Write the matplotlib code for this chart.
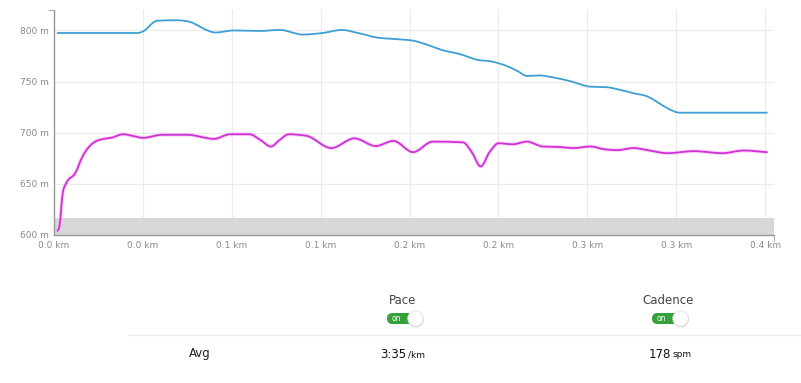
import numpy as np
import matplotlib.pyplot as plt
import matplotlib.patheffects as pe
from matplotlib.patches import FancyBboxPatch, Circle, PathPatch
from matplotlib.path import Path

# Altitude (courbe bleue)
elev_km = [0.002, 0.047, 0.050, 0.058, 0.069, 0.075, 0.091, 0.101, 0.116, 0.127, 0.140,
           0.151, 0.162, 0.171, 0.182, 0.191, 0.202, 0.210, 0.218, 0.228, 0.239, 0.245,
           0.255, 0.261, 0.266, 0.273, 0.281, 0.290, 0.302, 0.311, 0.317, 0.326, 0.334,
           0.339, 0.345, 0.352, 0.401]
elev_m = [797.5, 797.5, 799, 809.5, 810, 809, 798, 800, 799.5, 800.5, 796,
          797.5, 800.5, 797.5, 793, 791.7, 790, 786, 781, 777, 771, 770,
          765, 760, 755.5, 756, 754, 750.6, 745, 744.5, 742.5, 738.6, 735.3,
          730.4, 724, 719.6, 719.6]

# Cadence (courbe magenta)
cad_km = [0.002, 0.003, 0.005, 0.007, 0.012, 0.016, 0.022, 0.028, 0.032, 0.039, 0.044,
          0.050, 0.061, 0.075, 0.090, 0.099, 0.110, 0.116, 0.122, 0.127, 0.132, 0.142,
          0.156, 0.169, 0.181, 0.191, 0.202, 0.213, 0.230, 0.235, 0.240, 0.245, 0.250,
          0.258, 0.266, 0.275, 0.285, 0.292, 0.302, 0.309, 0.317, 0.326, 0.335, 0.345,
          0.360, 0.376, 0.388, 0.401]
cad_m = [604, 608, 642, 651, 660.6, 676.6, 690, 694, 695, 698.5, 697,
         695, 698, 698, 694, 698.5, 698.5, 693, 686.5, 693, 698.5, 697,
         685, 694.5, 687, 692, 681, 691.3, 690.6, 681, 667, 681, 689.7,
         688.7, 691.3, 686.5, 686, 685, 686.5, 684, 683, 685, 682.6, 680,
         682, 680, 682.6, 681]

x_ticks = [0.0, 0.05, 0.1, 0.15, 0.2, 0.25, 0.3, 0.35, 0.4]
x_labels = ["0.0 km", "0.0 km", "0.1 km", "0.1 km", "0.2 km", "0.2 km", "0.3 km", "0.3 km", "0.4 km"]
y_ticks = [600, 650, 700, 750, 800]
x_max = 0.405
band_top = 617

stats_labels = ["Pace", "Cadence"]
stats_values = ["3:35", "178"]
stats_units = ["/km", "spm"]


def smooth_path(xs, ys):
    """Courbe de Bézier monotone (style d3.curveMonotoneX) passant par les points."""
    x = np.asarray(xs, float)
    y = np.asarray(ys, float)
    n = len(x)
    h = np.diff(x)
    s = np.diff(y) / h
    m = np.zeros(n)
    m[0], m[-1] = s[0], s[-1]
    for i in range(1, n - 1):
        if s[i - 1] * s[i] <= 0:
            m[i] = 0
        else:
            p = (s[i - 1] * h[i] + s[i] * h[i - 1]) / (h[i - 1] + h[i])
            m[i] = np.sign(s[i]) * min(abs(p), 2 * abs(s[i - 1]), 2 * abs(s[i]))
    verts = [(x[0], y[0])]
    codes = [Path.MOVETO]
    for i in range(n - 1):
        d = h[i] / 3
        verts += [(x[i] + d, y[i] + m[i] * d), (x[i + 1] - d, y[i + 1] - m[i + 1] * d),
                  (x[i + 1], y[i + 1])]
        codes += [Path.CURVE4] * 3
    return Path(verts, codes)


W, H = 801, 383
fig = plt.figure(figsize=(W / 100, H / 100), dpi=100)
ax = fig.add_axes([54 / W, 1 - 235 / H, 720 / W, 225 / H])

grey_txt = "#8a8a8a"
ax.fill_between([0, x_max], 600, band_top, color="#d8d8d8", lw=0, zorder=1)
ax.add_patch(PathPatch(smooth_path(elev_km, elev_m), fc="none", ec="#3d9fd2", lw=1.3, zorder=3,
                       capstyle="round", joinstyle="round"))
ax.add_patch(PathPatch(smooth_path(cad_km, cad_m), fc="none", ec="#d22fd6", lw=1.3, zorder=4,
                       capstyle="round", joinstyle="round",
                       path_effects=[pe.Stroke(linewidth=2.8, foreground="#f0c0f0", alpha=0.6),
                                     pe.Normal()]))

ax.set_xlim(0, x_max)
ax.set_ylim(600, 820)
ax.set_xticks(x_ticks)
ax.set_xticklabels(x_labels)
ax.set_yticks(y_ticks)
ax.set_yticklabels([f"{v} m" for v in y_ticks])
ax.tick_params(length=0, labelsize=6.5, labelcolor=grey_txt, pad=4)
ax.set_xticks([0, x_max], minor=True)
ax.set_yticks([820], minor=True)
ax.tick_params(which="minor", length=4, color="#999999")
ax.grid(True, color="#ebebeb", lw=0.8, zorder=0)
ax.set_axisbelow(True)
for s in ["top", "right"]:
    ax.spines[s].set_visible(False)
for s in ["left", "bottom"]:
    ax.spines[s].set_color("#999999")
    ax.spines[s].set_linewidth(1)

# Partie basse : interrupteurs et moyennes
ov = fig.add_axes([0, 0, 1, 1])
ov.set_xlim(0, W)
ov.set_ylim(H, 0)
ov.axis("off")
ov.plot([128, W], [334.5, 334.5], color="#eeeeee", lw=1)
ov.text(200, 353, "Avg", ha="center", va="center", fontsize=8.5, color="#222222")

for i, cx in enumerate([403, 668]):
    ov.text(cx, 300, stats_labels[i], ha="center", va="center", fontsize=8.5, color="#444444")
    pill = FancyBboxPatch((cx - 16, 313), 27, 11, boxstyle="round,pad=0,rounding_size=5.5",
                          fc="#34a13a", ec="none")
    ov.add_patch(pill)
    ov.text(cx - 7, 318.6, "on", ha="center", va="center", fontsize=5.5, color="white")
    shadow = Circle((cx + 13, 319.5), 8, fc="#cccccc", ec="none", alpha=0.7)
    ov.add_patch(shadow)
    knob = Circle((cx + 12.5, 318.5), 7.7, fc="white", ec="#e2e2e2", lw=0.6)
    ov.add_patch(knob)
    ov.text(cx + 3, 354, stats_values[i], ha="right", va="center", fontsize=8.5, color="#111111")
    ov.text(cx + 5, 354.5, stats_units[i], ha="left", va="center", fontsize=6.5, color="#111111")

fig.savefig("out.png", dpi=100)
